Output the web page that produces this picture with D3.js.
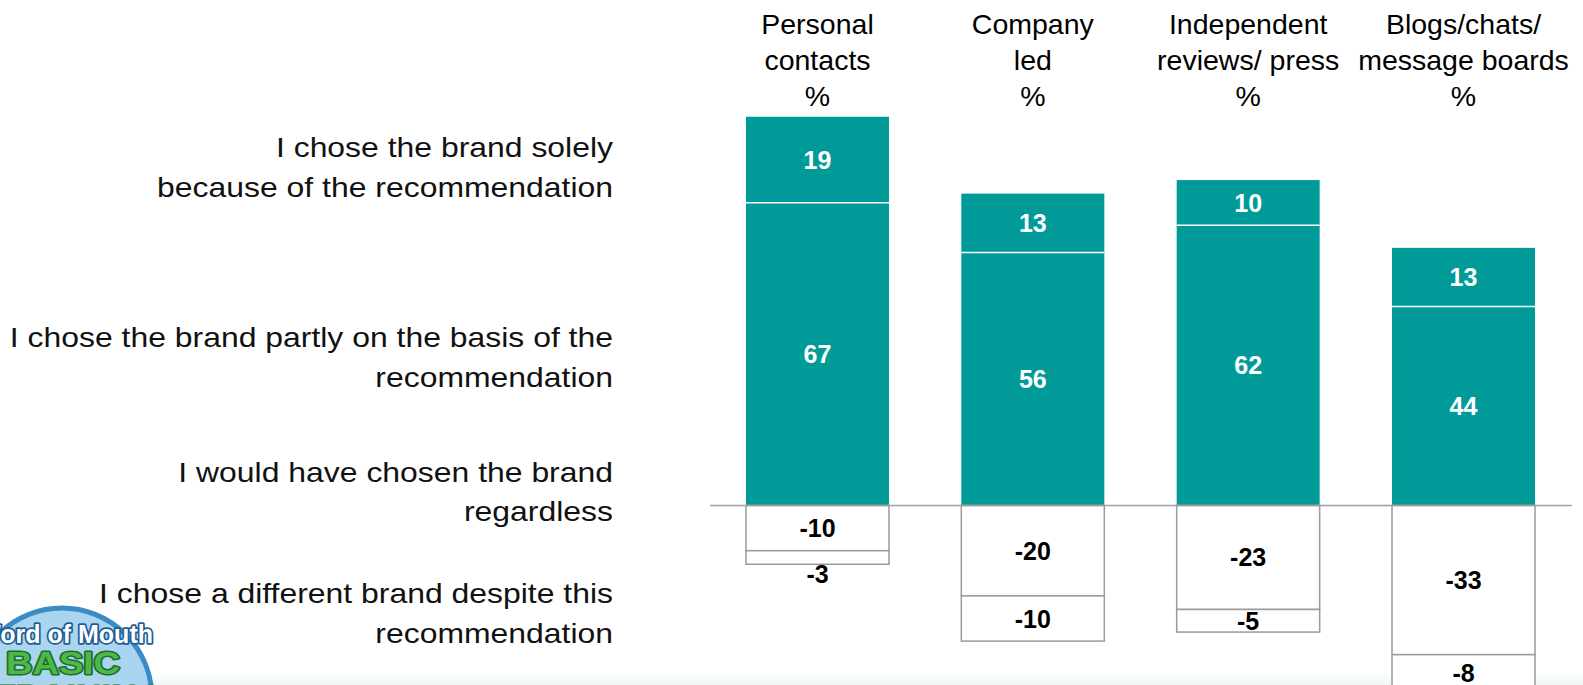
<!DOCTYPE html>
<html>
<head>
<meta charset="utf-8">
<script src="https://cdn.jsdelivr.net/npm/d3@7/dist/d3.min.js"></script>
<style>
  html, body { margin: 0; padding: 0; background: #ffffff; }
  svg { display: block; }
  text { font-family: "Liberation Sans", Arial, Helvetica, sans-serif; }
</style>
</head>
<body>
<svg id="chart" width="1583" height="685"></svg>
<script>
// Recommendation sources (columns)
const categories = ["Personal contacts", "Company led", "Independent reviews/ press", "Blogs/chats/ message boards"];
const headerLines = [
  ["Personal", "contacts", "%"],
  ["Company", "led", "%"],
  ["Independent", "reviews/ press", "%"],
  ["Blogs/chats/", "message boards", "%"]
];

// Answer statements (row labels on the left)
const statements = [
  ["I chose the brand solely", "because of the recommendation"],
  ["I chose the brand partly on the basis of the", "recommendation"],
  ["I would have chosen the brand", "regardless"],
  ["I chose a different brand despite this", "recommendation"]
];

// Shares in % per source
const solely     = [19, 13, 10, 13];
const partly     = [67, 56, 62, 44];
const regardless = [-10, -20, -23, -33];
const different  = [-3, -10, -5, -8];

const TEAL = "#009b98";
const svg = d3.select("#chart");
const W = 1583, H = 685;

// Scales
const x = d3.scaleBand().domain(categories).range([746, 1535]).paddingInner(0.336).paddingOuter(0);
const y = d3.scaleLinear().domain([-40, 90]).range([505.5 + 40 * 4.52, 505.5 - 90 * 4.52]);

// faint footer wash along the bottom edge
const defs = svg.append("defs");
const grad = defs.append("linearGradient").attr("id", "footer").attr("x1", 0).attr("y1", 0).attr("x2", 0).attr("y2", 1);
grad.append("stop").attr("offset", "0%").attr("stop-color", "#ffffff").attr("stop-opacity", 0);
grad.append("stop").attr("offset", "100%").attr("stop-color", "#eef6f4").attr("stop-opacity", 1);
svg.append("rect").attr("x", 0).attr("y", 668).attr("width", W).attr("height", H - 668).attr("fill", "url(#footer)");

// Build stacked segments
const positive = [], negative = [];
categories.forEach((c, i) => {
  positive.push({ cat: c, v: partly[i], y0: 0, y1: partly[i] });
  positive.push({ cat: c, v: solely[i], y0: partly[i], y1: partly[i] + solely[i] });
  negative.push({ cat: c, v: regardless[i], y0: 0, y1: regardless[i] });
  negative.push({ cat: c, v: different[i], y0: regardless[i], y1: regardless[i] + different[i] });
});

const gBars = svg.append("g");

// Positive (teal) segments with white separators
gBars.selectAll("rect.pos").data(positive).join("rect")
  .attr("class", "pos")
  .attr("x", d => x(d.cat))
  .attr("width", x.bandwidth())
  .attr("y", d => y(d.y1))
  .attr("height", d => y(d.y0) - y(d.y1))
  .attr("fill", TEAL);

gBars.selectAll("line.sep").data(positive.filter(d => d.y0 > 0)).join("line")
  .attr("class", "sep")
  .attr("x1", d => x(d.cat)).attr("x2", d => x(d.cat) + x.bandwidth())
  .attr("y1", d => y(d.y0)).attr("y2", d => y(d.y0))
  .attr("stroke", "#ffffff").attr("stroke-width", 1.5);

// Negative (outlined) segments
gBars.selectAll("rect.neg").data(negative).join("rect")
  .attr("class", "neg")
  .attr("x", d => x(d.cat))
  .attr("width", x.bandwidth())
  .attr("y", d => y(d.y0))
  .attr("height", d => y(d.y1) - y(d.y0))
  .attr("fill", "#ffffff")
  .attr("stroke", "#9a9a9a")
  .attr("stroke-width", 1.5);

// Zero line
svg.append("line")
  .attr("x1", 710).attr("x2", 1572)
  .attr("y1", y(0)).attr("y2", y(0))
  .attr("stroke", "#a0a0a0").attr("stroke-width", 1.5);

// Value labels (plain hyphen for negatives)
const fmt = v => String(v);
svg.append("g").selectAll("text").data(positive).join("text")
  .attr("x", d => x(d.cat) + x.bandwidth() / 2)
  .attr("y", d => (y(d.y0) + y(d.y1)) / 2 + 9)
  .attr("text-anchor", "middle")
  .attr("font-size", 25).attr("font-weight", "bold")
  .attr("fill", "#ffffff")
  .text(d => fmt(d.v));

svg.append("g").selectAll("text").data(negative).join("text")
  .attr("x", d => x(d.cat) + x.bandwidth() / 2)
  .attr("y", d => {
    const top = y(d.y0), bot = y(d.y1);
    // a segment too thin for its label gets the label just beneath it
    return (bot - top) < 16 ? bot + 19 : (top + bot) / 2 + 9;
  })
  .attr("text-anchor", "middle")
  .attr("font-size", 25).attr("font-weight", "bold")
  .attr("fill", "#000000")
  .text(d => fmt(d.v));

// Column headers
const headerBase = [34, 70, 106];
const gHead = svg.append("g");
categories.forEach((c, i) => {
  headerLines[i].forEach((line, j) => {
    gHead.append("text")
      .attr("x", x(c) + x.bandwidth() / 2)
      .attr("y", headerBase[j])
      .attr("text-anchor", "middle")
      .attr("font-size", 28.5)
      .attr("fill", "#000000")
      .text(line);
  });
});

// Row statements on the left
const statementBase = [[157, 197], [347, 387], [482, 521], [603, 643]];
const gRows = svg.append("g");
statements.forEach((lines, i) => {
  lines.forEach((line, j) => {
    gRows.append("text")
      .attr("transform", `translate(613,${statementBase[i][j]}) scale(1.12,1)`)
      .attr("text-anchor", "end")
      .attr("font-size", 28.5)
      .attr("fill", "#111111")
      .text(line);
  });
});

// Badge in the lower-left corner
const badge = svg.append("g");
badge.append("circle").attr("cx", 62).attr("cy", 698).attr("r", 90)
  .attr("fill", "#a9d5ee").attr("stroke", "#3a8cc6").attr("stroke-width", 5);
badge.append("text")
  .attr("x", 153).attr("y", 643)
  .attr("text-anchor", "end")
  .attr("font-size", 25).attr("font-weight", "bold")
  .attr("fill", "#ffffff").attr("stroke", "#1e5c95").attr("stroke-width", 3.5)
  .attr("paint-order", "stroke").attr("stroke-linejoin", "round")
  .text("Word of Mouth");
badge.append("text")
  .attr("x", 6).attr("y", 674)
  .attr("font-size", 31).attr("font-weight", "bold")
  .attr("textLength", 114).attr("lengthAdjust", "spacingAndGlyphs")
  .attr("fill", "#4cb848").attr("stroke", "#1f6b2a").attr("stroke-width", 3)
  .attr("paint-order", "stroke").attr("stroke-linejoin", "round")
  .text("BASIC");
badge.append("text")
  .attr("x", -6).attr("y", 706)
  .attr("font-size", 30).attr("font-weight", "bold")
  .attr("textLength", 170).attr("lengthAdjust", "spacingAndGlyphs")
  .attr("fill", "#3aa040").attr("stroke", "#1f6b2a").attr("stroke-width", 3)
  .attr("paint-order", "stroke").attr("stroke-linejoin", "round")
  .text("TRAINING");
</script>
</body>
</html>
